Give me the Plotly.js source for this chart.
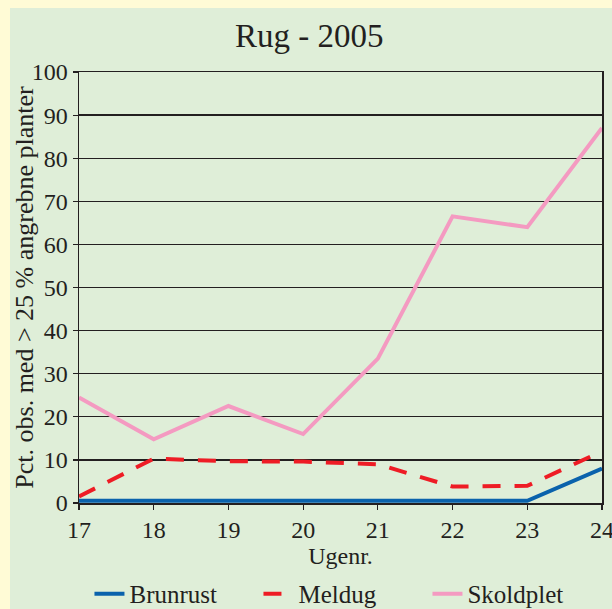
<!DOCTYPE html>
<html><head><meta charset="utf-8">
<script src="https://cdn.plot.ly/plotly-3.0.1.min.js"></script>
<style>
html,body{margin:0;padding:0;background:#fffbd6;width:612px;height:609px;overflow:hidden;}
#chart{position:absolute;left:10px;top:8px;width:602px;height:601px;}
</style></head>
<body><div id="chart"></div>
<script>
const weeks = [17, 18, 19, 20, 21, 22, 23, 24];
const brunrust = [0.5, 0.5, 0.5, 0.5, 0.5, 0.5, 0.5, 8];
const meldug = [1.5, 10.3, 9.7, 9.6, 9.0, 3.8, 4.0, 12.0];
const skoldplet = [24.5, 14.8, 22.5, 16, 33.5, 66.5, 64, 87];
const seriesNames = ["Brunrust", "Meldug", "Skoldplet"];

const font = "Liberation Serif, Times New Roman, serif";
const ink = "#231f20";
const traces = [
  {x: weeks, y: brunrust, name: seriesNames[0], mode: "lines", line: {color: "#0a62ac", width: 4}},
  {x: weeks, y: meldug, name: seriesNames[1], mode: "lines", line: {color: "#ee1c25", width: 4, dash: "18px,14px"}},
  {x: weeks, y: skoldplet, name: seriesNames[2], mode: "lines", line: {color: "#f49ac1", width: 4}}
];
const layout = {
  width: 602, height: 601,
  paper_bgcolor: "#dfeed8", plot_bgcolor: "#dfeed8",
  margin: {l: 69, r: 10, t: 64, b: 106},
  font: {family: font, color: ink, size: 24},
  title: {text: "Rug - 2005", font: {size: 33, family: font, color: ink}, x: 0.497, xanchor: "center", y: 0.935, yanchor: "bottom"},
  xaxis: {
    range: [17, 24], tickvals: weeks, ticktext: weeks.map(String),
    showgrid: false, zeroline: false, showline: true, linecolor: ink, linewidth: 1.5, mirror: true,
    ticks: "outside", ticklen: 5, tickcolor: ink, tickwidth: 1.2,
    ticklabeloverflow: "allow",
    tickfont: {size: 24, family: font, color: ink},
    title: {text: "Ugenr.", font: {size: 24, family: font, color: ink}, standoff: 0}
  },
  yaxis: {
    range: [0, 100], dtick: 10, tick0: 0,
    showgrid: true, gridcolor: ink, gridwidth: 1.4, zeroline: false,
    showline: true, linecolor: ink, linewidth: 1.5, mirror: true,
    ticks: "outside", ticklen: 5, tickcolor: ink, tickwidth: 1.2,
    ticklabeloverflow: "allow",
    tickfont: {size: 24, family: font, color: ink},
    title: {text: "Pct. obs. med > 25 % angrebne planter", font: {size: 26, family: font, color: ink}, standoff: 2}
  },
  showlegend: true,
  legend: {orientation: "h", xref: "container", yref: "container", x: 0.132, xanchor: "left", y: 0.025, yanchor: "middle",
    entrywidth: 124, entrywidthmode: "pixels",
    font: {size: 25, family: font, color: ink}, bgcolor: "rgba(0,0,0,0)", traceorder: "normal"}
};
Plotly.newPlot("chart", traces, layout, {displayModeBar: false, staticPlot: true});
</script></body></html>
